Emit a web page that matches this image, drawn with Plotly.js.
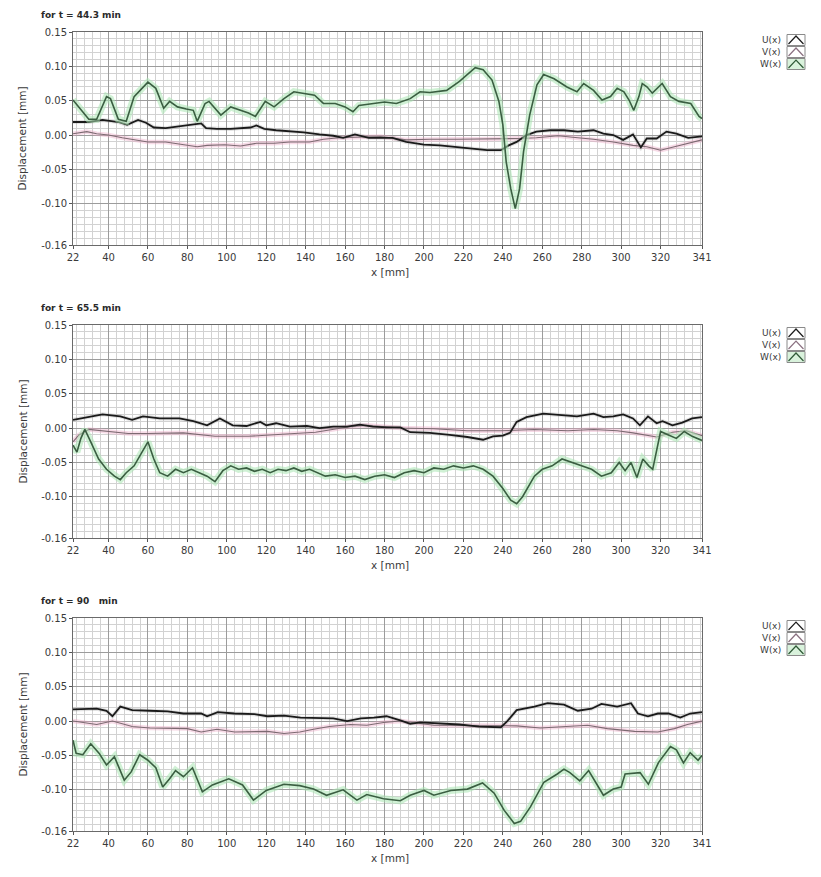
<!DOCTYPE html>
<html>
<head>
<meta charset="utf-8">
<script src="https://cdn.plot.ly/plotly-3.0.1.min.js"></script>
<style>
  html, body { margin: 0; padding: 0; background: #ffffff; }
  #chart { width: 821px; height: 877px; }
</style>
</head>
<body>
<div id="chart"></div>
<script>
// Displacement components U, V, W along x at three moments in time

const panelTitles = ['for t = 44.3 min', 'for t = 65.5 min', 'for t = 90\u00a0\u00a0\u00a0min'];
const seriesNames = ['U(x)', 'V(x)', 'W(x)'];

const xTickVals = [22, 40, 60, 80, 100, 120, 140, 160, 180, 200, 220, 240, 260, 280, 300, 320, 341];
const xTickText = ['22', '40', '60', '80', '100', '120', '140', '160', '180', '200', '220', '240', '260', '280', '300', '320', '341'];
const yTickVals = [0.15, 0.10, 0.05, 0.00, -0.05, -0.10, -0.16];
const yTickText = ['0.15', '0.10', '0.05', '0.00', '-0.05', '-0.10', '-0.16'];

// ---- t = 44.3 min ----
const u1x = [22, 30, 37, 45, 49.5, 55, 59, 63, 69, 75, 84, 87, 89.5, 95, 102, 106, 112, 115, 119, 125, 132, 139, 147, 154, 159, 165, 172, 180, 184, 191, 200, 208, 217, 223, 232, 239, 243, 247, 252, 257, 264, 271, 278, 286, 291, 296, 301, 306, 310, 313, 318, 323, 328, 334, 341];
const u1 = [0.019, 0.019, 0.022, 0.019, 0.015, 0.022, 0.018, 0.011, 0.010, 0.012, 0.016, 0.017, 0.010, 0.009, 0.009, 0.010, 0.011, 0.014, 0.009, 0.007, 0.006, 0.004, 0.001, -0.001, -0.004, 0.001, -0.004, -0.004, -0.004, -0.010, -0.014, -0.015, -0.018, -0.020, -0.022, -0.022, -0.015, -0.010, 0.000, 0.005, 0.007, 0.007, 0.005, 0.007, 0.002, 0.000, -0.007, 0.001, -0.018, -0.005, -0.005, 0.005, 0.002, -0.004, -0.002];
const v1x = [22, 29, 34, 40, 47, 54, 60, 69, 79, 85, 90, 99, 107, 115, 124, 132, 142, 149, 157, 168, 178, 191, 203, 217, 229, 239, 249, 257, 268, 278, 286, 296, 306, 313, 320, 327, 334, 341];
const v1 = [0.002, 0.005, 0.002, 0.000, -0.004, -0.007, -0.010, -0.010, -0.014, -0.017, -0.015, -0.014, -0.016, -0.012, -0.012, -0.010, -0.010, -0.006, -0.004, -0.003, -0.002, -0.007, -0.006, -0.006, -0.006, -0.005, -0.005, -0.004, -0.001, -0.004, -0.006, -0.010, -0.015, -0.017, -0.022, -0.017, -0.012, -0.007];
const w1x = [22, 25, 30, 34, 39, 41, 45, 49, 53, 57, 60, 64, 68, 71, 75, 79.5, 83, 85, 89, 91, 97, 102, 107, 111, 114.5, 119.5, 124, 129, 134, 139, 144.5, 149, 155, 160, 164, 167, 174, 180, 186, 193, 198, 203, 211.5, 218, 226, 230, 234.5, 238, 240, 241.7, 244, 246.3, 248.5, 250.5, 253.6, 257.3, 260.7, 266, 272.5, 277.6, 281, 286, 290.3, 294.6, 298, 301.4, 304, 306.4, 309, 310.7, 313.2, 315.8, 320.8, 325, 329.3, 335.3, 339.5, 341];
const w1 = [0.051, 0.041, 0.023, 0.023, 0.056, 0.053, 0.023, 0.020, 0.056, 0.068, 0.077, 0.068, 0.039, 0.049, 0.041, 0.038, 0.036, 0.020, 0.046, 0.049, 0.029, 0.041, 0.036, 0.032, 0.027, 0.049, 0.041, 0.053, 0.063, 0.061, 0.058, 0.046, 0.046, 0.041, 0.034, 0.043, 0.046, 0.048, 0.046, 0.053, 0.063, 0.062, 0.065, 0.078, 0.098, 0.095, 0.080, 0.049, 0.015, -0.039, -0.078, -0.107, -0.078, -0.024, 0.029, 0.073, 0.088, 0.082, 0.070, 0.063, 0.075, 0.065, 0.051, 0.056, 0.068, 0.063, 0.051, 0.036, 0.056, 0.075, 0.070, 0.061, 0.075, 0.056, 0.049, 0.046, 0.027, 0.024];

// ---- t = 65.5 min ----
const u2x = [22, 37, 46, 52, 57.5, 66, 76, 83, 90, 96.5, 103, 110, 117, 120, 125, 132, 140.6, 147, 154, 161, 167.5, 174, 181, 188, 193, 203, 213, 222, 230, 235, 240, 243.6, 247, 252, 260.5, 269, 277.6, 286, 291, 296, 301, 306, 309.5, 313.6, 318, 321, 326, 331, 336, 341];
const u2 = [0.012, 0.020, 0.017, 0.012, 0.017, 0.014, 0.014, 0.010, 0.004, 0.014, 0.004, 0.003, 0.009, 0.004, 0.007, 0.002, 0.003, 0.000, 0.002, 0.002, 0.005, 0.002, 0.001, 0.001, -0.006, -0.007, -0.010, -0.013, -0.017, -0.012, -0.011, -0.007, 0.009, 0.016, 0.021, 0.019, 0.017, 0.021, 0.016, 0.017, 0.020, 0.014, 0.004, 0.017, 0.007, 0.010, 0.004, 0.008, 0.014, 0.016];
const v2x = [22, 25, 30, 40, 50, 60, 78, 94, 111, 128, 145, 162, 171, 188, 205, 222, 239, 256, 273, 286, 298, 306, 313, 318, 326, 333, 341];
const v2 = [-0.020, -0.010, -0.002, -0.005, -0.008, -0.008, -0.007, -0.012, -0.012, -0.009, -0.006, 0.002, 0.004, 0.000, -0.001, -0.004, -0.004, -0.002, -0.004, -0.002, -0.004, -0.007, -0.011, -0.013, -0.006, -0.004, -0.011];
const w2x = [22, 24, 26, 28, 31, 35, 39, 43, 46, 49, 53, 57, 60, 63, 66, 70, 74, 78, 82, 86, 90, 94, 98, 102, 106, 110, 114, 118, 122, 126, 130, 134, 138, 142, 146, 150, 155, 160, 165, 170, 175, 180, 185, 190, 195, 200, 205, 210, 215, 220, 225, 230, 235, 240, 244, 247, 250, 253, 256, 260, 265, 270, 275, 280, 285, 290, 295, 299, 302, 305, 308, 311, 314, 316, 318, 320, 324, 328, 332, 336, 341];
const w2 = [-0.025, -0.035, -0.015, -0.002, -0.020, -0.045, -0.060, -0.070, -0.075, -0.065, -0.055, -0.035, -0.020, -0.045, -0.065, -0.070, -0.060, -0.065, -0.060, -0.065, -0.070, -0.078, -0.062, -0.055, -0.060, -0.058, -0.063, -0.060, -0.065, -0.060, -0.062, -0.058, -0.063, -0.060, -0.065, -0.070, -0.068, -0.072, -0.070, -0.075, -0.070, -0.068, -0.072, -0.065, -0.062, -0.065, -0.058, -0.060, -0.055, -0.058, -0.055, -0.060, -0.070, -0.088, -0.105, -0.110, -0.100, -0.085, -0.070, -0.060, -0.055, -0.045, -0.050, -0.055, -0.060, -0.070, -0.065, -0.050, -0.062, -0.050, -0.072, -0.045, -0.055, -0.060, -0.030, -0.005, -0.010, -0.015, -0.005, -0.012, -0.018];

// ---- t = 90 min ----
const u3x = [22, 34, 39, 42, 46, 52, 61, 70, 78, 87, 90, 95.4, 103.8, 114, 120.6, 129, 137.4, 146, 154, 161, 168, 174.6, 181, 188, 193, 198, 208, 218, 228, 239, 242, 247, 256, 262.7, 271, 278, 285, 290, 298, 305, 308.5, 313.6, 318.6, 324, 330, 335, 341];
const u3 = [0.017, 0.018, 0.015, 0.007, 0.021, 0.016, 0.015, 0.014, 0.011, 0.011, 0.007, 0.013, 0.011, 0.010, 0.007, 0.008, 0.005, 0.005, 0.004, 0.000, 0.004, 0.005, 0.007, 0.001, -0.004, -0.002, -0.003, -0.005, -0.008, -0.009, -0.001, 0.016, 0.021, 0.026, 0.024, 0.015, 0.018, 0.025, 0.021, 0.026, 0.011, 0.007, 0.011, 0.011, 0.005, 0.011, 0.013];
const v3x = [22, 34, 42, 52, 61, 73, 80, 87, 95, 104, 114, 120.6, 129, 137, 144, 152, 162.7, 171, 179.5, 188, 205, 222, 239, 247, 259, 272.7, 283, 293, 306.8, 318.6, 327, 333.6, 341];
const v3 = [0.000, -0.005, 0.000, -0.008, -0.010, -0.010, -0.011, -0.016, -0.012, -0.016, -0.015, -0.015, -0.018, -0.016, -0.012, -0.008, -0.005, -0.006, -0.002, 0.000, -0.006, -0.006, -0.006, -0.007, -0.010, -0.008, -0.006, -0.011, -0.015, -0.016, -0.011, -0.005, 0.000];
const w3x = [22, 23.6, 27, 31, 35.3, 39, 43, 48, 51.5, 55.8, 60, 64, 67.5, 71, 74, 78, 82.6, 87.6, 92.7, 101, 108, 113.5, 120, 129, 137, 144, 150.6, 159, 166, 171, 179.5, 188, 193, 200, 205, 213.6, 222, 229.7, 235.6, 240.7, 245.8, 249, 254, 260.8, 267.6, 271, 274, 279, 283.5, 291, 296, 300, 302, 309.6, 313.8, 319, 325, 328, 331.6, 335, 339, 341];
const w3 = [-0.028, -0.047, -0.049, -0.033, -0.047, -0.064, -0.052, -0.086, -0.074, -0.049, -0.057, -0.068, -0.096, -0.084, -0.072, -0.081, -0.068, -0.103, -0.093, -0.084, -0.093, -0.115, -0.101, -0.092, -0.094, -0.099, -0.108, -0.100, -0.115, -0.107, -0.113, -0.116, -0.108, -0.101, -0.108, -0.101, -0.099, -0.090, -0.105, -0.130, -0.149, -0.146, -0.125, -0.089, -0.077, -0.070, -0.075, -0.087, -0.072, -0.108, -0.099, -0.096, -0.077, -0.075, -0.092, -0.060, -0.037, -0.042, -0.061, -0.046, -0.057, -0.050];

const panels = [
  { u: [u1x, u1], v: [v1x, v1], w: [w1x, w1] },
  { u: [u2x, u2], v: [v2x, v2], w: [w2x, w2] },
  { u: [u3x, u3], v: [v3x, v3], w: [w3x, w3] }
];

// Page geometry (pixels)
const W = 821, H = 877;
const plotLeft = 73, plotRight = 702;
const panelTops = [32, 325, 618];
const plotH = 213;
const px = (p) => p / W;
const py = (p) => 1 - p / H;

const FONT = 'DejaVu Sans, Verdana, sans-serif';

const lineStyles = {
  u: { halo: 'rgba(140,140,140,0.25)', haloW: 4, color: '#1a1a1a', width: 1.8 },
  v: { halo: 'rgba(236,165,195,0.40)', haloW: 4.5, color: '#7d6a72', width: 1.1 },
  w: { halo: 'rgba(170,230,178,0.55)', haloW: 7, color: '#3a5e41', width: 1.6 }
};

const traces = [];
const layout = {
  width: W, height: H,
  margin: { l: 0, r: 0, t: 0, b: 0 },
  paper_bgcolor: '#ffffff',
  plot_bgcolor: '#ffffff',
  showlegend: false,
  font: { family: FONT, size: 10, color: '#3a3a3a' },
  annotations: [],
  shapes: []
};

panels.forEach((panel, i) => {
  const n = i === 0 ? '' : String(i + 1);
  const xa = 'x' + n, ya = 'y' + n;
  const top = panelTops[i];

  ['v', 'u', 'w'].forEach((key) => {
    const st = lineStyles[key];
    const [xs, ys] = panel[key];
    traces.push({
      type: 'scatter', mode: 'lines', x: xs, y: ys, xaxis: xa, yaxis: ya,
      line: { color: st.halo, width: st.haloW }, hoverinfo: 'skip'
    });
    traces.push({
      type: 'scatter', mode: 'lines', x: xs, y: ys, xaxis: xa, yaxis: ya,
      name: seriesNames[['u', 'v', 'w'].indexOf(key)],
      line: { color: st.color, width: st.width }
    });
  });

  layout['xaxis' + n] = {
    domain: [px(plotLeft), px(plotRight)],
    anchor: ya,
    range: [22, 341],
    tickmode: 'array', tickvals: xTickVals, ticktext: xTickText,
    ticks: 'outside', ticklen: 3, tickcolor: '#555',
    tickfont: { family: FONT, size: 10, color: '#3a3a3a' },
    showgrid: true, gridcolor: '#9c9c9c', gridwidth: 1,
    minor: { tickmode: 'linear', tick0: 0, dtick: 4, showgrid: true, gridcolor: '#d2d2d2', gridwidth: 1, ticks: '' },
    showline: true, linecolor: '#6a6a6a', linewidth: 1, mirror: true,
    zeroline: false, automargin: false, fixedrange: true
  };
  layout['yaxis' + n] = {
    domain: [py(top + plotH), py(top)],
    anchor: xa,
    range: [-0.16, 0.15],
    tickmode: 'array', tickvals: yTickVals, ticktext: yTickText,
    ticks: 'outside', ticklen: 3, tickcolor: '#555',
    tickfont: { family: FONT, size: 10, color: '#3a3a3a' },
    showgrid: true, gridcolor: '#9c9c9c', gridwidth: 1,
    minor: { tickmode: 'linear', tick0: 0, dtick: 0.01, showgrid: true, gridcolor: '#d2d2d2', gridwidth: 1, ticks: '' },
    showline: true, linecolor: '#6a6a6a', linewidth: 1, mirror: true,
    zeroline: false, automargin: false, fixedrange: true
  };

  // panel heading
  layout.annotations.push({
    xref: 'paper', yref: 'paper', x: px(39), y: py(top - 17),
    xanchor: 'left', yanchor: 'middle', showarrow: false,
    text: '<b>' + panelTitles[i] + '</b>',
    font: { family: FONT, size: 9, color: '#2a2a2a' }
  });
  // axis titles
  layout.annotations.push({
    xref: 'paper', yref: 'paper', x: px(22), y: py(top + plotH / 2),
    xanchor: 'center', yanchor: 'middle', showarrow: false, textangle: -90,
    text: 'Displacement [mm]', font: { family: FONT, size: 10.5, color: '#3a3a3a' }
  });
  layout.annotations.push({
    xref: 'paper', yref: 'paper', x: px(390), y: py(top + plotH + 27),
    xanchor: 'center', yanchor: 'middle', showarrow: false,
    text: 'x [mm]', font: { family: FONT, size: 10.5, color: '#3a3a3a' }
  });

  // plot legend: name + small boxed glyph
  const legendRows = [top + 8, top + 20, top + 32];
  const glyph = [
    { stroke: '#1c1c1c', fill: '#ffffff' },
    { stroke: '#8a7080', fill: '#ffffff' },
    { stroke: '#2f5a37', fill: '#d9f2dc' }
  ];
  legendRows.forEach((ry, k) => {
    layout.annotations.push({
      xref: 'paper', yref: 'paper', x: px(783), y: py(ry),
      xanchor: 'right', yanchor: 'middle', showarrow: false,
      text: seriesNames[k], font: { family: FONT, size: 9, color: '#3a3a3a' }
    });
    const bx0 = px(787), bx1 = px(805), by0 = py(ry + 5.5), by1 = py(ry - 5.5);
    layout.shapes.push({
      type: 'rect', xref: 'paper', yref: 'paper', x0: bx0, x1: bx1, y0: by0, y1: by1,
      line: { color: '#8a8a8a', width: 1 }, fillcolor: glyph[k].fill, layer: 'above'
    });
    const gx = (p) => px(p).toFixed(5), gy = (p) => py(p).toFixed(5);
    layout.shapes.push({
      type: 'path', xref: 'paper', yref: 'paper', layer: 'above',
      path: 'M' + gx(788.5) + ',' + gy(ry + 4) + ' L' + gx(796) + ',' + gy(ry - 4) + ' L' + gx(803.5) + ',' + gy(ry + 4),
      line: { color: glyph[k].stroke, width: 1.2 }
    });
  });
});

Plotly.newPlot('chart', traces, layout, { displayModeBar: false, staticPlot: true });
</script>
</body>
</html>
